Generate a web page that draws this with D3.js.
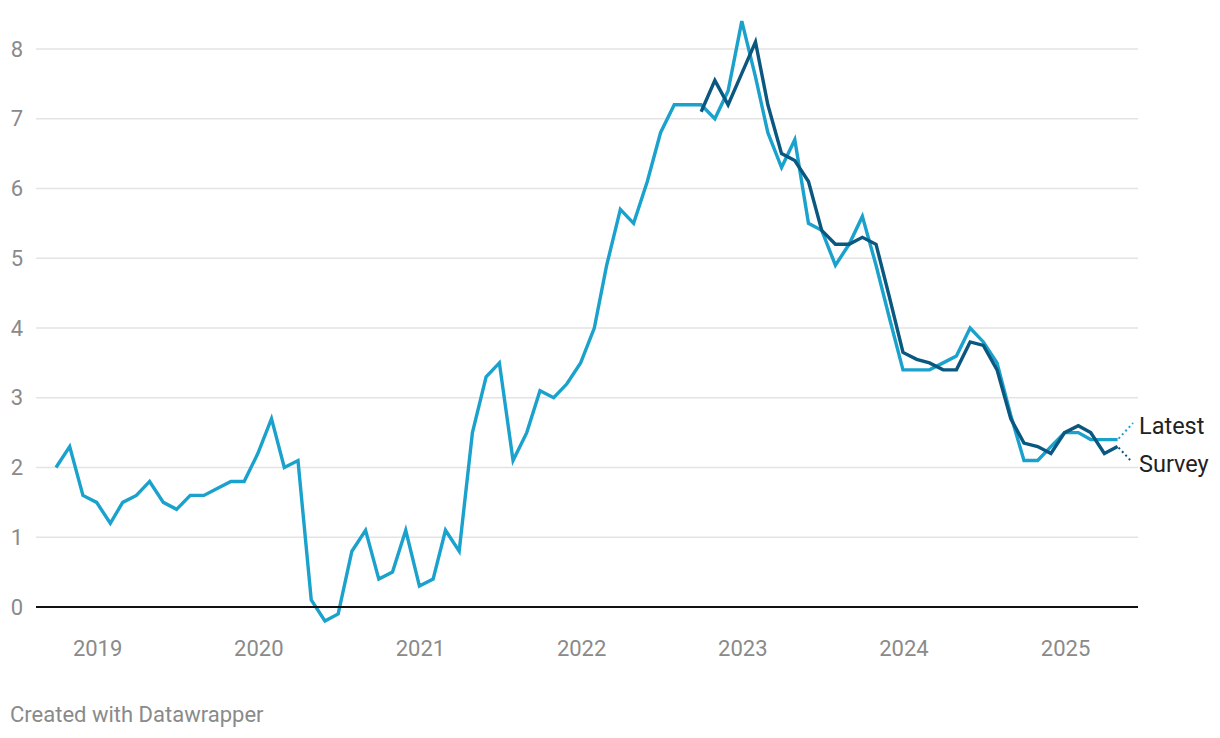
<!DOCTYPE html>
<html>
<head>
<meta charset="utf-8">
<script src="https://cdn.jsdelivr.net/npm/d3@7"></script>
<style>
  html, body { margin: 0; padding: 0; background: #fff; }
  svg { display: block; font-family: Roboto, "Noto Sans", sans-serif; }
</style>
</head>
<body>
<svg id="chart" width="1220" height="738"></svg>
<script>
// Monthly data, October 2018 to May 2025
const startMonth = new Date(2018, 9, 1);
const endMonth = new Date(2025, 4, 1);
const latestValues = [
  2.0, 2.3, 1.6, 1.5, 1.2, 1.5, 1.6, 1.8, 1.5, 1.4, 1.6, 1.6, 1.7, 1.8, 1.8,
  2.2, 2.7, 2.0, 2.1, 0.1, -0.2, -0.1, 0.8, 1.1, 0.4, 0.5, 1.1,
  0.3, 0.4, 1.1, 0.8, 2.5, 3.3, 3.5, 2.1, 2.5, 3.1,
  3.0, 3.2, 3.5, 4.0, 4.9, 5.7, 5.5, 6.1, 6.8, 7.2, 7.2, 7.2,
  7.0, 7.4, 8.4, 7.6, 6.8, 6.3, 6.7, 5.5, 5.4, 4.9, 5.2, 5.6,
  4.9, 4.15, 3.4, 3.4, 3.4, 3.5, 3.6, 4.0, 3.8, 3.5, 2.75, 2.1,
  2.1, 2.3, 2.5, 2.5, 2.4, 2.4, 2.4
];
// Survey series starts October 2022
const surveyStartIndex = 48;
const surveyValues = [
  7.1, 7.55, 7.2, 7.65, 8.1, 7.2, 6.5, 6.4, 6.1, 5.4, 5.2, 5.2, 5.3,
  5.2, 4.45, 3.65, 3.55, 3.5, 3.4, 3.4, 3.8, 3.75, 3.4, 2.7, 2.35,
  2.3, 2.2, 2.5, 2.6, 2.5, 2.2, 2.3
];
const yTicks = [0, 1, 2, 3, 4, 5, 6, 7, 8];
const xTickYears = [2019, 2020, 2021, 2022, 2023, 2024, 2025];
const seriesLabels = ["Latest", "Survey"];
const footerText = "Created with Datawrapper";

const months = d3.timeMonth.range(startMonth, d3.timeMonth.offset(endMonth, 1));
const latest = latestValues.map((v, i) => ({ date: months[i], value: v }));
const survey = surveyValues.map((v, i) => ({ date: months[surveyStartIndex + i], value: v }));

const svg = d3.select("#chart");
const colLatest = "#1aa2cc";
const colSurvey = "#0a5780";
const axisCol = "#8a8a8a";

const x = d3.scaleTime().domain([startMonth, endMonth]).range([56, 1117.6]);
const y = d3.scaleLinear().domain([0, 8]).range([607, 49]);
const gridLeft = 36, gridRight = 1138;

// grid
const grid = svg.append("g");
grid.selectAll("line").data(yTicks.filter(d => d !== 0)).join("line")
  .attr("x1", gridLeft).attr("x2", gridRight)
  .attr("y1", d => y(d)).attr("y2", d => y(d))
  .attr("stroke", "#e3e3e3").attr("stroke-width", 1.3);

// y labels
svg.append("g").selectAll("text").data(yTicks).join("text")
  .attr("x", 23).attr("y", d => y(d)).attr("dy", "0.35em")
  .attr("text-anchor", "end")
  .attr("font-size", 22).attr("fill", axisCol)
  .text(d => d);

// x labels
svg.append("g").selectAll("text").data(xTickYears).join("text")
  .attr("x", d => x(new Date(d, 0, 1)) + 1).attr("y", 656)
  .attr("text-anchor", "middle")
  .attr("font-size", 22).attr("fill", axisCol)
  .text(d => d);

const line = d3.line().x(d => x(d.date)).y(d => y(d.value));

svg.append("path").datum(latest)
  .attr("d", line).attr("fill", "none")
  .attr("stroke", colLatest).attr("stroke-width", 3.4)
  .attr("stroke-linejoin", "miter").attr("stroke-linecap", "butt");

svg.append("path").datum(survey)
  .attr("d", line).attr("fill", "none")
  .attr("stroke", colSurvey).attr("stroke-width", 3.4)
  .attr("stroke-linejoin", "miter").attr("stroke-linecap", "butt");

// zero line
svg.append("line")
  .attr("x1", gridLeft).attr("x2", gridRight)
  .attr("y1", y(0)).attr("y2", y(0))
  .attr("stroke", "#111").attr("stroke-width", 2);

// end labels with dotted connectors
const lastL = latest[latest.length - 1];
const lastS = survey[survey.length - 1];
const labelX = 1139;
const labelYL = 426, labelYS = 464;
svg.append("line")
  .attr("x1", x(lastL.date) + 1).attr("y1", y(lastL.value) - 1)
  .attr("x2", 1133).attr("y2", labelYL - 3)
  .attr("stroke", colLatest).attr("stroke-width", 2).attr("stroke-dasharray", "2,3");
svg.append("line")
  .attr("x1", x(lastS.date) + 1).attr("y1", y(lastS.value) + 1)
  .attr("x2", 1132).attr("y2", labelYS - 2)
  .attr("stroke", colSurvey).attr("stroke-width", 2).attr("stroke-dasharray", "2,3");

svg.append("text").attr("x", labelX).attr("y", labelYL).attr("dy", "0.35em")
  .attr("font-size", 23.5).attr("fill", "#222").text(seriesLabels[0]);
svg.append("text").attr("x", labelX).attr("y", labelYS).attr("dy", "0.35em")
  .attr("font-size", 23.5).attr("fill", "#222").text(seriesLabels[1]);

// footer
svg.append("text").attr("x", 10).attr("y", 722)
  .attr("font-size", 22).attr("fill", axisCol).text(footerText);
</script>
</body>
</html>
